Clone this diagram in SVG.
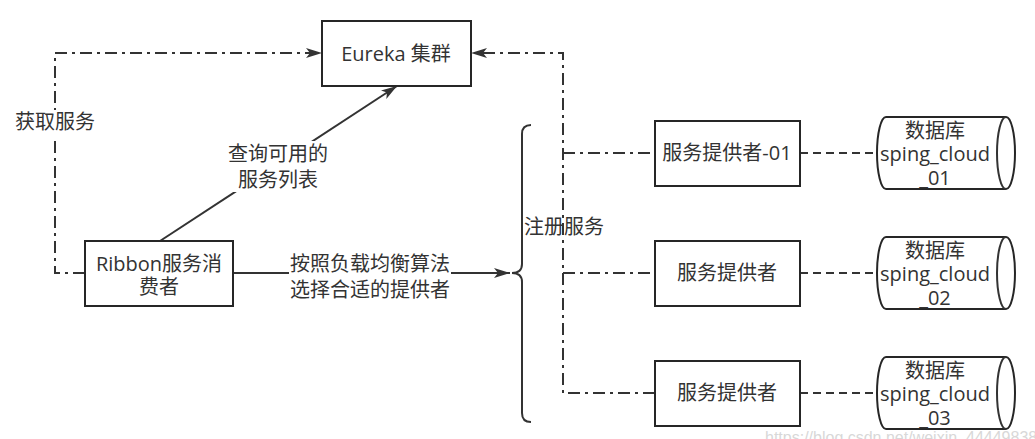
<svg xmlns="http://www.w3.org/2000/svg" width="1035" height="439" viewBox="0 0 1035 439">
<defs>
<style>
.box{fill:#fff;stroke:#262626;stroke-width:2}
.ln{fill:none;stroke:#333;stroke-width:2}
.dd{stroke-dasharray:12 5 3 5}
.da{stroke-dasharray:8 5}
.t{font-family:"Open Sans","Noto Sans CJK SC",sans-serif;font-size:20px;fill:#333;text-anchor:middle}
.bg{fill:#fff}
</style>
<marker id="arr" markerUnits="userSpaceOnUse" viewBox="0 0 16 10" refX="16" refY="5" markerWidth="16" markerHeight="10" orient="auto">
<path d="M0,0 L16,5 L0,10 L4,5 Z" fill="#333" stroke="none"/>
</marker>
</defs>
<rect width="1035" height="439" fill="#fff"/>

<g id="connectors">
<path class="ln dd" d="M85,273 L55,273 L55,53 L322,53" marker-end="url(#arr)"/>
<path class="ln dd" d="M655,393 L563,393 L563,53 L471,53" marker-end="url(#arr)"/>
<path class="ln dd" d="M563,153 L655,153"/>
<path class="ln dd" d="M563,273 L655,273"/>
<path class="ln" d="M160,241 L397,86" marker-end="url(#arr)"/>
<path class="ln" d="M233,273 L510,273" marker-end="url(#arr)"/>
<path class="ln da" d="M800,153 L877,153"/>
<path class="ln da" d="M800,273 L877,273"/>
<path class="ln da" d="M800,393 L877,393"/>
<path class="ln" d="M531,125 Q522,125 522,134 L522,264 Q522,273 512,273 Q522,273 522,282 L522,413 Q522,422 531,422"/>
<rect class="bg" x="14" y="110" width="82" height="26"/>
<text class="t" x="55" y="129">获取服务</text>
<rect class="bg" x="228" y="141" width="101" height="51"/>
<text class="t" x="278" y="161">查询可用的</text>
<text class="t" x="278" y="187">服务列表</text>
<rect class="bg" x="289" y="251" width="162" height="52"/>
<text class="t" x="370" y="271">按照负载均衡算法</text>
<text class="t" x="370" y="297">选择合适的提供者</text>
<text class="t" x="524" y="234" style="text-anchor:start">注册服务</text>
</g>

<g id="eureka">
<rect class="box" x="322" y="21" width="149" height="65"/>
<text class="t" x="396" y="61">Eureka 集群</text>
</g>
<g id="ribbon">
<rect class="box" x="85" y="241" width="148" height="65"/>
<text class="t" x="159" y="271">Ribbon服务消</text>
<text class="t" x="159" y="294">费者</text>
</g>
<g id="provider1">
<rect class="box" x="655" y="121" width="145" height="65"/>
<text class="t" x="727" y="160">服务提供者-01</text>
</g>
<g id="provider2">
<rect class="box" x="655" y="241" width="145" height="65"/>
<text class="t" x="727" y="280">服务提供者</text>
</g>
<g id="provider3">
<rect class="box" x="655" y="361" width="145" height="65"/>
<text class="t" x="727" y="400">服务提供者</text>
</g>
<g id="db1">
<path class="box" d="M886,117 L1006,117 A9,36 0 0 1 1006,189 L886,189 A9,36 0 0 1 886,117 Z"/>
<path class="ln" d="M1006,117 A9,36 0 0 0 1006,189"/>
<text class="t" x="935" y="138">数据库</text>
<text class="t" x="935" y="161">sping_cloud</text>
<text class="t" x="935" y="185">_01</text>
</g>
<g id="db2">
<path class="box" d="M886,237 L1006,237 A9,36 0 0 1 1006,309 L886,309 A9,36 0 0 1 886,237 Z"/>
<path class="ln" d="M1006,237 A9,36 0 0 0 1006,309"/>
<text class="t" x="935" y="258">数据库</text>
<text class="t" x="935" y="281">sping_cloud</text>
<text class="t" x="935" y="305">_02</text>
</g>
<g id="db3">
<path class="box" d="M886,357 L1006,357 A9,36 0 0 1 1006,429 L886,429 A9,36 0 0 1 886,357 Z"/>
<path class="ln" d="M1006,357 A9,36 0 0 0 1006,429"/>
<text class="t" x="935" y="378">数据库</text>
<text class="t" x="935" y="401">sping_cloud</text>
<text class="t" x="935" y="425">_03</text>
</g>
<text x="765" y="443" style="font-family:'Liberation Sans',sans-serif;font-size:16px;fill:#d8d8d8">https://blog.csdn.net/weixin_44449838</text>
</svg>
